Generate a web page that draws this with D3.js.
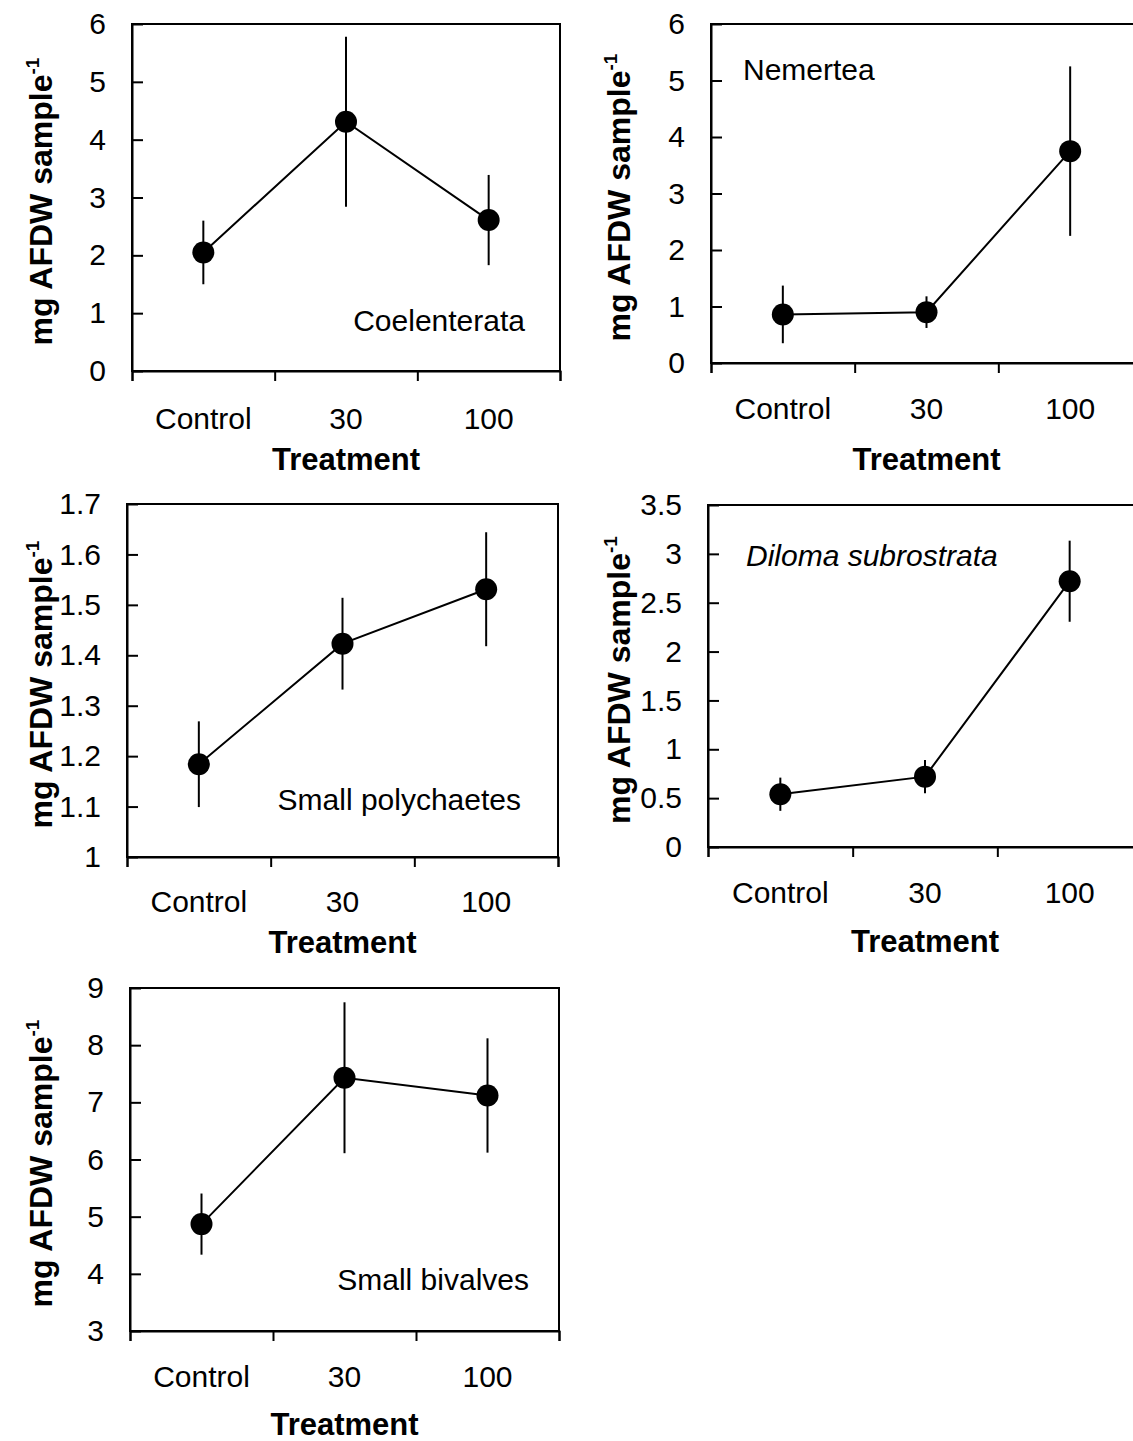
<!DOCTYPE html>
<html>
<head>
<meta charset="utf-8">
<script src="https://cdn.jsdelivr.net/npm/d3@7"></script>
<style>
    body { margin: 0; background: #fff; }
    text { font-family: "Liberation Sans", Arial, sans-serif; fill: #000; }
</style>
</head>
<body>
<svg id="chart" width="1133" height="1441"></svg>
<script>
const categories = ['Control', '30', '100'];

const coelenterataMean = [2.05, 4.31, 2.61];
const coelenterataSE = [0.55, 1.47, 0.78];
const coelenterataTicks = [0, 1, 2, 3, 4, 5, 6];

const nemerteaMean = [0.86, 0.90, 3.75];
const nemerteaSE = [0.51, 0.28, 1.50];
const nemerteaTicks = [0, 1, 2, 3, 4, 5, 6];

const polychaeteMean = [1.184, 1.423, 1.531];
const polychaeteSE = [0.085, 0.091, 0.113];
const polychaeteTicks = [1, 1.1, 1.2, 1.3, 1.4, 1.5, 1.6, 1.7];

const dilomaMean = [0.54, 0.72, 2.72];
const dilomaSE = [0.17, 0.17, 0.415];
const dilomaTicks = [0, 0.5, 1, 1.5, 2, 2.5, 3, 3.5];

const bivalveMean = [4.87, 7.43, 7.12];
const bivalveSE = [0.535, 1.32, 1.0];
const bivalveTicks = [3, 4, 5, 6, 7, 8, 9];

// panel frames in page pixels
const panels = [
    {name: 'Coelenterata', mean: coelenterataMean, se: coelenterataSE, ticks: coelenterataTicks,
        left: 132, right: 560, top: 24, bottom: 371, ylabX: 52, labelX: 525, labelY: 331, anchor: 'end', catY: 429, treatY: 470},
    {name: 'Nemertea', mean: nemerteaMean, se: nemerteaSE, ticks: nemerteaTicks,
        left: 711, right: 1142, top: 24, bottom: 363, ylabX: 630, labelX: 743, labelY: 80, anchor: 'start', catY: 419, treatY: 470},
    {name: 'Small polychaetes', mean: polychaeteMean, se: polychaeteSE, ticks: polychaeteTicks,
        left: 127, right: 558, top: 504, bottom: 857, ylabX: 52, labelX: 521, labelY: 810, anchor: 'end', catY: 912, treatY: 953},
    {name: 'Diloma subrostrata', mean: dilomaMean, se: dilomaSE, ticks: dilomaTicks, italic: true,
        left: 708, right: 1142, top: 505, bottom: 847, ylabX: 630, labelX: 746, labelY: 566, anchor: 'start', catY: 903, treatY: 952},
    {name: 'Small bivalves', mean: bivalveMean, se: bivalveSE, ticks: bivalveTicks,
        left: 130, right: 559, top: 988, bottom: 1331, ylabX: 52, labelX: 529, labelY: 1290, anchor: 'end', catY: 1387, treatY: 1435},
];

const svg = d3.select('#chart');

function drawPanel(p) {
    const g = svg.append('g');
    const ticks = p.ticks;
    const y = d3.scaleLinear().domain([ticks[0], ticks[ticks.length - 1]]).range([p.bottom, p.top]);
    const x = d3.scaleBand().domain(categories).range([p.left, p.right]);
    const xEdge = d3.scaleLinear().domain([0, categories.length]).range([p.left, p.right]);
    const cx = d => x(d) + x.bandwidth() / 2;

    // frame
    g.append('rect')
        .attr('x', p.left).attr('y', p.top)
        .attr('width', p.right - p.left).attr('height', p.bottom - p.top)
        .attr('fill', 'none').attr('stroke', '#000').attr('stroke-width', 2);

    // y axis, ticks pointing inward
    const yAxis = g.append('g')
        .attr('transform', `translate(${p.left},0)`)
        .call(d3.axisLeft(y).tickValues(ticks).tickFormat(d3.format('')).tickSizeInner(-11).tickSizeOuter(0).tickPadding(26));
    yAxis.select('.domain').attr('stroke-width', 2);
    yAxis.selectAll('line').attr('stroke-width', 2);
    yAxis.selectAll('text').attr('font-size', 30).attr('font-family', '"Liberation Sans", Arial, sans-serif');

    // x axis boundary ticks
    const xAxis = g.append('g')
        .attr('transform', `translate(0,${p.bottom})`)
        .call(d3.axisBottom(xEdge).tickValues(d3.range(categories.length + 1)).tickSize(10).tickFormat(''));
    xAxis.select('.domain').attr('stroke-width', 2);
    xAxis.selectAll('line').attr('stroke-width', 2);

    // category labels
    g.selectAll('.cat').data(categories).join('text')
        .attr('class', 'cat')
        .attr('x', cx)
        .attr('y', p.catY)
        .attr('text-anchor', 'middle')
        .attr('font-size', 30)
        .text(d => d);

    g.append('text')
        .attr('x', (p.left + p.right) / 2)
        .attr('y', p.treatY)
        .attr('text-anchor', 'middle')
        .attr('font-size', 31)
        .attr('font-weight', 'bold')
        .text('Treatment');

    const ylab = g.append('text')
        .attr('transform', `translate(${p.ylabX},${(p.top + p.bottom) / 2 + 4}) rotate(-90)`)
        .attr('text-anchor', 'middle')
        .attr('font-size', 32)
        .attr('font-weight', 'bold');
    ylab.append('tspan').text('mg AFDW sample');
    ylab.append('tspan').attr('font-size', 19).attr('dy', -13).text('-1');

    const pts = categories.map((c, i) => ({c, m: p.mean[i], se: p.se[i]}));

    g.selectAll('.err').data(pts).join('line')
        .attr('class', 'err')
        .attr('x1', d => cx(d.c)).attr('x2', d => cx(d.c))
        .attr('y1', d => y(d.m - d.se)).attr('y2', d => y(d.m + d.se))
        .attr('stroke', '#000').attr('stroke-width', 2);

    g.append('path')
        .datum(pts)
        .attr('fill', 'none').attr('stroke', '#000').attr('stroke-width', 2)
        .attr('d', d3.line().x(d => cx(d.c)).y(d => y(d.m)));

    g.selectAll('.dot').data(pts).join('circle')
        .attr('class', 'dot')
        .attr('cx', d => cx(d.c)).attr('cy', d => y(d.m))
        .attr('r', 11).attr('fill', '#000');

    g.append('text')
        .attr('x', p.labelX).attr('y', p.labelY)
        .attr('text-anchor', p.anchor)
        .attr('font-size', 30)
        .attr('font-style', p.italic ? 'italic' : 'normal')
        .text(p.name);
}

panels.forEach(drawPanel);
</script>
</body>
</html>
